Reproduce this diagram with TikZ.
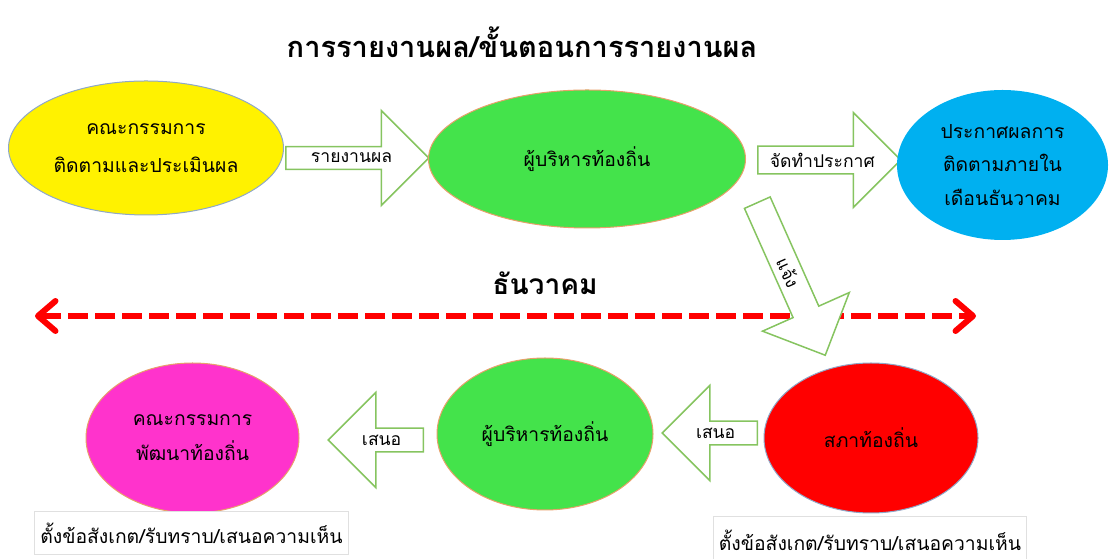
\documentclass[tikz,border=0pt]{standalone}
\usepackage{fontspec}
\newfontfamily\thaifont[Script=Thai]{Loma}
\usetikzlibrary{shapes.geometric,shapes.arrows,arrows.meta}
\definecolor{leafgreen}{HTML}{44E34B}
\definecolor{skyblue}{HTML}{00B0F0}
\definecolor{hotpink}{HTML}{FF33CC}
\definecolor{arrowgreen}{HTML}{86C460}
\definecolor{rimblue}{HTML}{8FA8C8}
\definecolor{rimorange}{HTML}{E8A06A}
\tikzset{
	bubble/.style={ellipse, inner sep=0pt, align=center, line width=0.2mm},
	blockarrow/.style={single arrow, draw=arrowgreen, fill=white, line width=0.3mm,
		single arrow head extend=0.47cm, minimum width=1.9cm, inner sep=1pt,
		font=\thaifont\fontsize{10}{12}\selectfont},
	notebox/.style={draw=black!12, fill=white, line width=0.2mm,
		font=\thaifont\fontsize{11}{13}\selectfont}
}

\begin{document}
\begin{tikzpicture}
			%%%%% START %%%%%
			\useasboundingbox (0, 0) rectangle (22.18, 11.18);
			
			\node[font=\thaifont\bfseries\fontsize{16.5}{20}\selectfont] (title) at (10.44, 10.34) {การรายงานผล/ขั้นตอนการรายงานผล};
			
			% top row
			\node[bubble, fill=yellow, draw=rimblue, minimum width=5.5cm, minimum height=2.68cm,
				font=\thaifont\fontsize{11}{22}\selectfont] (committee) at (2.92, 8.22) {คณะกรรมการ\\ติดตามและประเมินผล};
			\node[blockarrow, anchor=tail, minimum height=2.86cm] (report) at (5.70, 8.02) {รายงานผล};
			\node[bubble, fill=leafgreen, draw=rimorange, minimum width=6.34cm, minimum height=2.76cm,
				font=\thaifont\fontsize{11}{22}\selectfont] (executive) at (11.74, 8.00) {ผู้บริหารท้องถิ่น};
			\node[blockarrow, anchor=tail, minimum height=2.86cm] (announce) at (15.14, 7.98) {จัดทำประกาศ};
			\node[bubble, fill=skyblue, minimum width=4.22cm, minimum height=3.0cm,
				font=\thaifont\fontsize{11}{19}\selectfont] (publish) at (20.05, 7.88) {ประกาศผลการ\\ติดตามภายใน\\เดือนธันวาคม};
			
			% december line
			\coordinate (decwest) at (0.70, 4.86);
			\coordinate (deceast) at (19.52, 4.86);
			\draw[line width=1.2mm, color=red, dash pattern=on 4mm off 1.4mm,
				{Straight Barb[length=3.5mm, width=6mm, round]}-{Straight Barb[length=3.5mm, width=6mm, round]}] (decwest) -- (deceast);
			\node[font=\thaifont\bfseries\fontsize{16}{18}\selectfont] (december) at (10.90, 5.52) {ธันวาคม};
			
			\node[blockarrow, anchor=tail, rotate=-66, minimum height=3.34cm] (inform) at (15.14, 7.14) {แจ้ง};
			
			% bottom row
			\node[bubble, fill=red, draw=rimblue, minimum width=4.28cm, minimum height=3.0cm,
				font=\thaifont\fontsize{11}{20}\selectfont] (council) at (17.42, 2.42) {สภาท้องถิ่น};
			\node[blockarrow, anchor=tail, shape border rotate=180, minimum height=1.9cm] (propose2) at (15.16, 2.52) {เสนอ};
			\node[bubble, fill=leafgreen, draw=rimorange, minimum width=4.32cm, minimum height=3.04cm,
				font=\thaifont\fontsize{11}{20}\selectfont] (executive2) at (10.90, 2.50) {ผู้บริหารท้องถิ่น};
			\node[blockarrow, anchor=tail, shape border rotate=180, minimum height=1.9cm] (propose1) at (8.48, 2.38) {เสนอ};
			\node[bubble, fill=hotpink, draw=rimorange, minimum width=4.26cm, minimum height=3.0cm,
				font=\thaifont\fontsize{11}{20}\selectfont] (devcommittee) at (3.85, 2.42) {คณะกรรมการ\\พัฒนาท้องถิ่น};
			
			\node[notebox, minimum width=5.94cm, minimum height=0.86cm] (noteleft) at (3.83, 0.51) {ตั้งข้อสังเกต/รับทราบ/เสนอความเห็น};
			\node[notebox, minimum width=5.92cm, minimum height=0.92cm] (noteright) at (17.40, 0.38) {ตั้งข้อสังเกต/รับทราบ/เสนอความเห็น};
			
			%%%%% END %%%%%
\end{tikzpicture}
\end{document}
